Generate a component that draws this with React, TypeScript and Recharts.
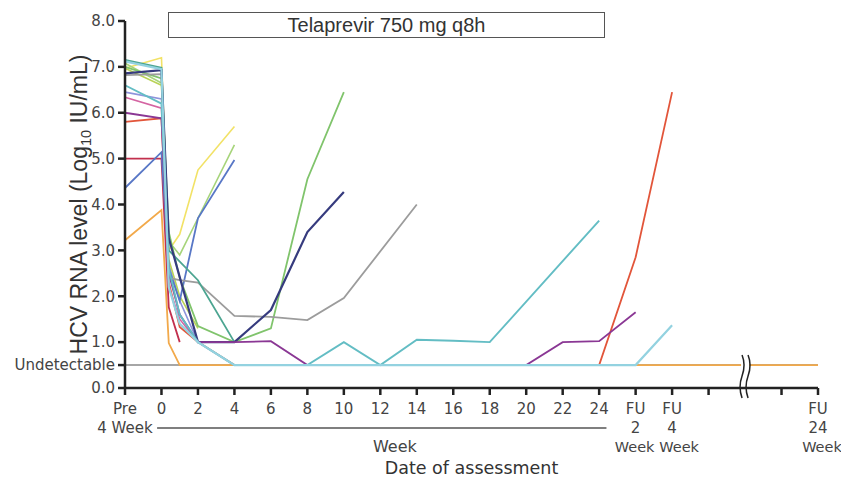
import React from 'react';
import { LineChart, Line, XAxis, YAxis, ReferenceLine } from 'recharts';

// visit schedule and where each visit sits on the (broken) x axis
const VISITS = ['Pre', 'W0', 'D3', 'W1', 'W2', 'W4', 'W6', 'W8', 'W10', 'W12', 'W14', 'W16', 'W18', 'W20', 'W22', 'W24', 'FU2', 'FU4', 'FU24'];
const VISIT_POS = [0, 1, 1.2, 1.5, 2, 3, 4, 5, 6, 7, 8, 9, 10, 11, 12, 13, 14, 15, 19];

const _ = null;
// log10 HCV RNA per patient (0.5 = undetectable)
const orangeVals = [3.22, 3.88, 0.98, 0.5, 0.5, 0.5, 0.5, 0.5, 0.5, 0.5, 0.5, 0.5, 0.5, 0.5, 0.5, 0.5, 0.5, 0.5, 0.5];
const redVals = [5.8, 5.88, 2.3, 1.33, 1.0, 0.5, 0.5, 0.5, 0.5, 0.5, 0.5, 0.5, 0.5, 0.5, 0.5, 0.5, 2.85, 6.45, _];
const crimsonVals = [5.0, 5.0, 1.76, 1.0];
const pinkVals = [6.34, 6.1, 2.2, 1.5, 1.0];
const lavenderVals = [6.45, 6.3, 2.7, 1.9, 1.0];
const oliveVals = [6.97, 6.6, 2.8, 2.0, 1.3];
const yellowVals = [6.97, 7.2, 3.0, 3.35, 4.75, 5.7];
const greenAVals = [7.08, 6.65, 3.2, 2.9, 3.7, 5.3];
const blueVals = [4.36, 5.14, 2.6, 1.9, 3.7, 4.97];
const greenBVals = [7.0, 6.75, 3.4, 2.4, 1.35, 1.0, 1.3, 4.55, 6.45];
const grayVals = [6.82, 6.84, 2.4, 2.35, 2.3, 1.57, 1.55, 1.48, 1.96, _, 4.0];
const darkTealVals = [7.15, 6.98, 3.0, _, 2.35, 1.0];
const navyVals = [6.86, 6.93, 3.27, _, 1.0, 1.0, 1.7, 3.4, 4.27];
const purpleVals = [6.0, 5.88, 2.5, 1.6, 1.0, 1.0, 1.02, 0.5, 0.5, 0.5, 0.5, 0.5, 0.5, 0.5, 1.0, 1.02, 1.65];
const tealVals = [6.6, 6.2, 2.6, 1.6, 1.0, 0.5, 0.5, 0.5, 1.0, 0.5, 1.05, 1.03, 1.0, _, _, 3.65];
const lightCyanVals = [7.12, 6.95, 2.2, 1.4, 1.0, 0.5, 0.5, 0.5, 0.5, 0.5, 0.5, 0.5, 0.5, 0.5, 0.5, 0.5, 0.5, 1.37];

const PATIENTS = [
  { key: 'orange', color: '#f2a94a', width: 1.8, values: orangeVals },
  { key: 'red', color: '#e2553a', width: 1.8, values: redVals },
  { key: 'crimson', color: '#c2304e', width: 1.8, values: crimsonVals },
  { key: 'pink', color: '#d464a2', width: 1.6, values: pinkVals },
  { key: 'lavender', color: '#8e94dc', width: 1.6, values: lavenderVals },
  { key: 'olive', color: '#b9d256', width: 1.6, values: oliveVals },
  { key: 'yellow', color: '#f2e266', width: 1.6, values: yellowVals },
  { key: 'greenA', color: '#a6d47a', width: 1.6, values: greenAVals },
  { key: 'blue', color: '#5877c6', width: 1.8, values: blueVals },
  { key: 'greenB', color: '#80c46c', width: 1.8, values: greenBVals },
  { key: 'gray', color: '#9c9c9c', width: 1.8, values: grayVals },
  { key: 'darkTeal', color: '#4ca591', width: 1.8, values: darkTealVals },
  { key: 'navy', color: '#363b7e', width: 2.2, values: navyVals },
  { key: 'purple', color: '#8a3794', width: 1.8, values: purpleVals },
  { key: 'teal', color: '#63bdc4', width: 1.9, values: tealVals },
  { key: 'lightCyan', color: '#93d2e0', width: 2.2, values: lightCyanVals },
];

const Y_TICKS = [0, 0.5, 1, 2, 3, 4, 5, 6, 7, 8];
const X_TICKS = [0, 1, 2, 3, 4, 5, 6, 7, 8, 9, 10, 11, 12, 13, 14, 15, 16, 18, 19];
const WEEK_LABELS = ['0', '2', '4', '6', '8', '10', '12', '14', '16', '18', '20', '22', '24'];
const FU_LABELS: { [pos: number]: string[] } = {
  0: ['Pre', '4 Week'],
  14: ['FU', '2', 'Week'],
  15: ['FU', '4', 'Week'],
  19: ['FU', '24', 'Week'],
};

const data = VISITS.map((v, i) => {
  const row: { [k: string]: number | string | null } = { visit: v, x: VISIT_POS[i] };
  PATIENTS.forEach((p) => {
    row[p.key] = p.values[i] ?? null;
  });
  return row;
});

const TICK_FONT = '"DejaVu Sans", sans-serif';

const xLabelLines = (v: number): string[] => {
  if (FU_LABELS[v]) return FU_LABELS[v];
  if (v >= 1 && v <= 13) return [WEEK_LABELS[v - 1]];
  return [];
};

// the "Week" words under the FU ticks sit a little right of the tick
const lastLineShift = (v: number) => (v === 14 ? -1 : v === 15 ? 7 : v === 19 ? 4 : 0);

const XTick = (props: any) => {
  const { x, y, payload } = props;
  const lines = xLabelLines(payload.value);
  return (
    <text x={x} y={y} textAnchor="middle" fill="#444" fontSize={15} fontFamily={TICK_FONT}>
      {lines.map((l, i) => (
        <tspan
          key={i}
          x={x + (i === 2 ? lastLineShift(payload.value) : 0)}
          dy={i === 0 ? 17 : 19}
          fontSize={i === 2 ? 14.5 : 15}
        >
          {l}
        </tspan>
      ))}
    </text>
  );
};

const XAxisTitle = (props: any) => {
  const { x, y, width } = props.viewBox;
  const unit = width / 19;
  return (
    <g fontFamily={TICK_FONT} fill="#444">
      <line x1={x + unit * 0.88} x2={x + unit * 13.2} y1={y + 40} y2={y + 40} stroke="#555" strokeWidth={1.5} />
      <text x={x + unit * 7.4} y={y + 64} textAnchor="middle" fontSize={16}>Week</text>
      <text x={x + unit * 9.5} y={y + 86} textAnchor="middle" fontSize={17.5} fill="#333">Date of assessment</text>
    </g>
  );
};

const YAxisTitle = (props: any) => {
  const { y, height } = props.viewBox;
  const cx = 87;
  const cy = y + height / 2;
  return (
    <text
      x={cx}
      y={cy}
      transform={`rotate(-90, ${cx}, ${cy})`}
      textAnchor="middle"
      fontSize={23}
      fill="#333"
      fontFamily='"Liberation Sans", Arial, sans-serif'
    >
      HCV RNA level (Log
      <tspan fontSize={14.5} dy={4}>10</tspan>
      <tspan dy={-4}> IU/mL)</tspan>
    </text>
  );
};

const BreakMark = (props: any) => {
  const { x, y, height } = props.viewBox;
  const by = y + height;
  const wave = (ox: number) => `M ${ox} ${by - 33} q 4 10 0 21 q -4 11 0 22`;
  return (
    <g>
      <rect x={x - 4} y={by - 34} width={8} height={45} fill="#fff" />
      <path d={wave(x - 3)} stroke="#222" strokeWidth={1.5} fill="none" />
      <path d={wave(x + 3)} stroke="#222" strokeWidth={1.5} fill="none" />
    </g>
  );
};

export default function App() {
  return (
    <div style={{ position: 'absolute', left: 0, top: 0, width: 841, height: 481, background: '#fff', overflow: 'hidden' }}>
      <LineChart width={841} height={481} data={data} margin={{ top: 21, right: 23, left: 0, bottom: 0 }}>
        <XAxis
          dataKey="x"
          type="number"
          domain={[0, 19]}
          ticks={X_TICKS}
          interval={0}
          tick={<XTick />}
          tickSize={7}
          stroke="#222"
          strokeWidth={2.5}
          height={93}
          label={(p: any) => <XAxisTitle {...p} />}
        />
        <YAxis
          type="number"
          domain={[0, 8]}
          ticks={Y_TICKS}
          interval={0}
          tickFormatter={(v: number) => (v === 0.5 ? 'Undetectable' : v.toFixed(1))}
          tick={{ fill: '#444', fontSize: 15, fontFamily: TICK_FONT }}
          tickSize={7}
          tickMargin={3}
          stroke="#222"
          strokeWidth={2.5}
          width={125}
          label={(p: any) => <YAxisTitle {...p} />}
        />
        <ReferenceLine y={0.5} stroke="#888" strokeWidth={1.5} />
        {PATIENTS.map((p) => (
          <Line
            key={p.key}
            dataKey={p.key}
            type="linear"
            stroke={p.color}
            strokeWidth={p.width}
            dot={false}
            connectNulls
            isAnimationActive={false}
          />
        ))}
        <ReferenceLine x={17} stroke="none" label={(p: any) => <BreakMark {...p} />} />
      </LineChart>
      <div
        style={{
          position: 'absolute',
          left: 168,
          top: 12,
          width: 435,
          height: 24,
          border: '1px solid #555',
          textAlign: 'center',
          fontFamily: '"Liberation Sans", Arial, sans-serif',
          fontSize: 20,
          lineHeight: '24px',
          color: '#333',
        }}
      >
        Telaprevir 750 mg q8h
      </div>
    </div>
  );
}
